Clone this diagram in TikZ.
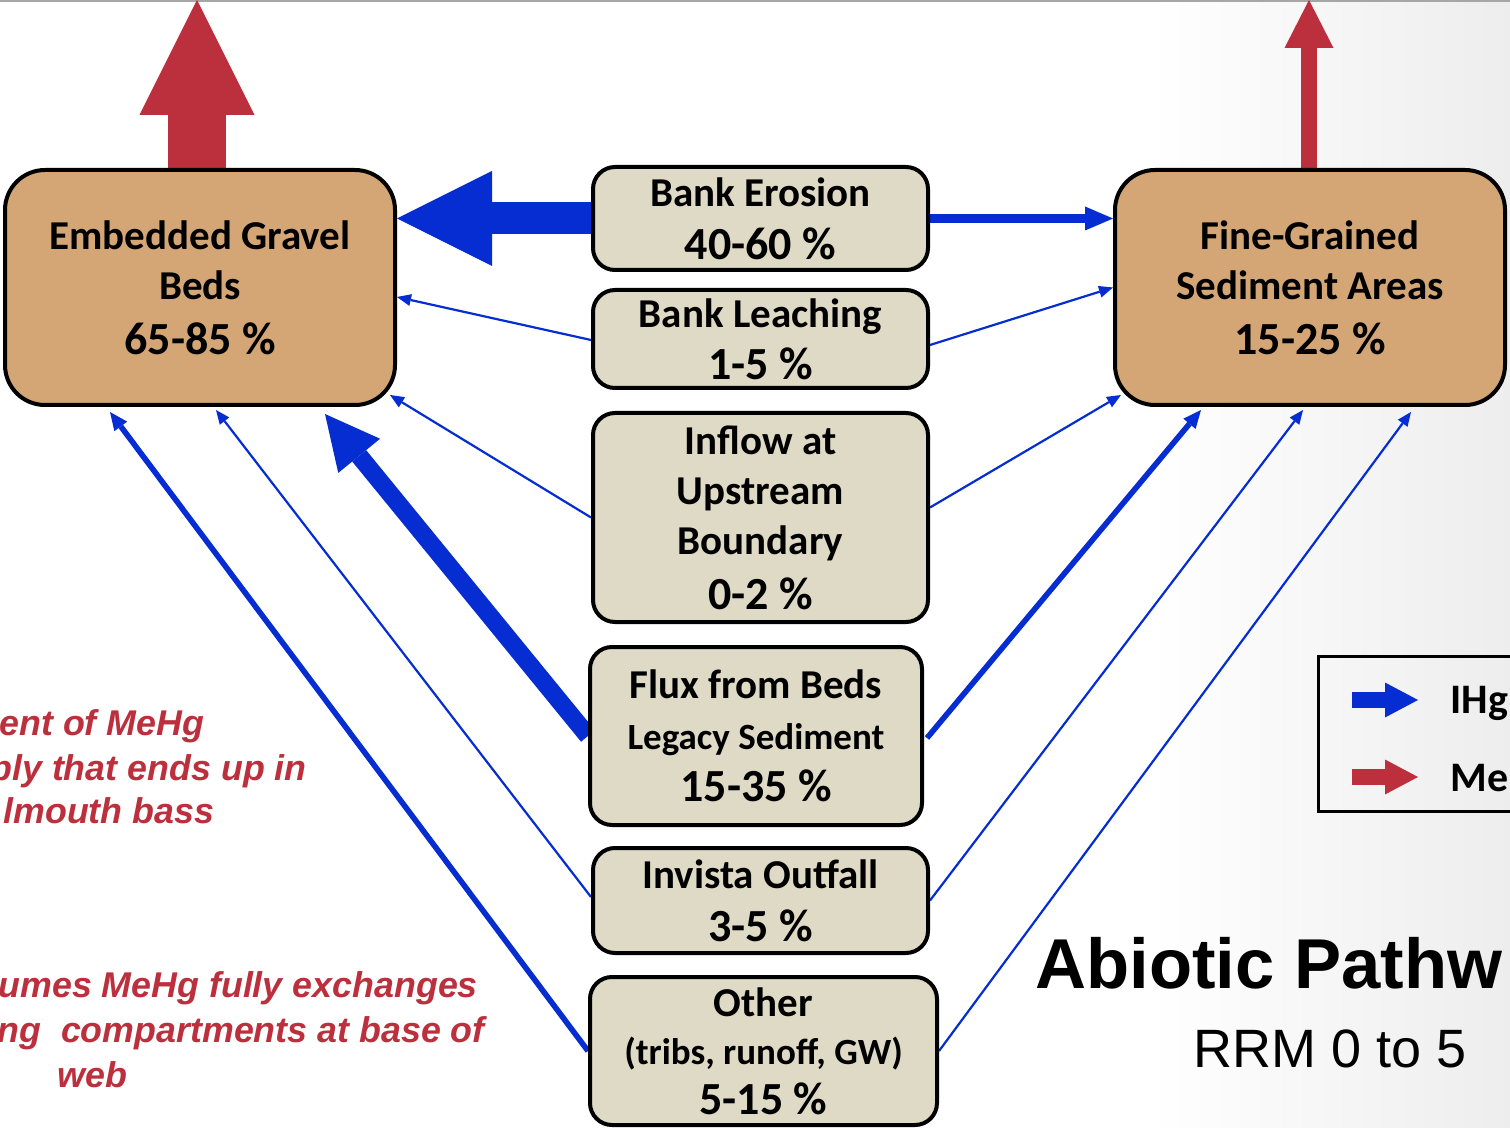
\documentclass[tikz,border=0pt]{standalone}
\usepackage{fontspec}
\setmainfont{Carlito}
\newfontfamily\arialf{Liberation Sans}
\usetikzlibrary{arrows.meta,calc}
\definecolor{tanbox}{RGB}{212,166,118}
\definecolor{beige}{RGB}{222,218,197}
\definecolor{flowblue}{RGB}{5,45,210}
\definecolor{mered}{RGB}{188,48,62}
\newcommand\nmsz{\fontsize{20.5}{25}\selectfont}
\newcommand\pcsz{\fontsize{23}{25}\selectfont}
\newcommand\smsz{\fontsize{18.5}{25}\selectfont}
\pgfdeclarelayer{bg}
\pgfdeclarelayer{paper}
\pgfsetlayers{paper,bg,main}
\begin{document}
\begin{tikzpicture}[x=0.5pt,y=-0.5pt,
  big/.style={draw=black,line width=2pt,fill=tanbox,rounded corners=20pt,minimum width=195pt,minimum height=117.5pt,align=center,font=\bfseries\fontsize{20.5}{25}\selectfont,inner sep=0pt},
  src/.style={draw=black,line width=2pt,fill=beige,rounded corners=11pt,align=center,font=\bfseries\fontsize{20.5}{25}\selectfont,inner sep=0pt},
  thinflow/.style={flowblue,line width=1.1pt,-{Triangle[length=7pt,width=6pt,line width=0pt]}},
  midflow/.style={flowblue,line width=2.8pt,-{Triangle[length=9pt,width=8pt,line width=0pt]}},
  redtxt/.style={text=mered,font=\arialf\bfseries\itshape\fontsize{17.9}{22}\selectfont,anchor=base west,inner sep=0pt},
]
\path[use as bounding box] (0,0) rectangle (1510,1128);
\clip (0,0) rectangle (1510,1128);
\begin{pgfonlayer}{paper}
\fill[white] (0,0) rectangle (1510,1128);
\shade[left color=white,right color=black!7] (1150,0) rectangle (1510,1128);
\draw[black!35,line width=1pt] (0,1) -- (1510,1);
\end{pgfonlayer}

% boxes
\node[big] (emb) at (200,287.5) {\nmsz Embedded Gravel\\\nmsz Beds\\[2.5pt]\pcsz 65-85 \%};
\node[big] (fine) at (1310,287.5) {\nmsz Fine-Grained\\\nmsz Sediment Areas\\[2.5pt]\pcsz 15-25 \%};
\node[src,minimum width=167.5pt,minimum height=51.5pt] (ero) at (760.5,218.5) {\nmsz Bank Erosion\\[1.5pt]\pcsz 40-60 \%};
\node[src,minimum width=167.5pt,minimum height=49pt] (lea) at (760.5,339) {\nmsz Bank Leaching\\[1pt]\pcsz 1-5 \%};
\node[src,minimum width=167.5pt,minimum height=104.5pt] (inf) at (760.5,517.5) {\nmsz Inflow at\\\nmsz Upstream\\\nmsz Boundary\\[2.5pt]\pcsz 0-2 \%};
\node[src,minimum width=166pt,minimum height=89pt] (flux) at (756,736) {\nmsz Flux from Beds\\[0.5pt]\smsz Legacy Sediment\\[1pt]\pcsz 15-35 \%};
\node[src,minimum width=167.5pt,minimum height=52.5pt] (inv) at (760.5,900.5) {\nmsz Invista Outfall\\[1.5pt]\pcsz 3-5 \%};
\node[src,minimum width=173.5pt,minimum height=74pt] (oth) at (763.5,1051) {\nmsz Other\\[-1pt]\smsz (tribs, runoff, GW)\\\pcsz 5-15 \%};

\coordinate (topL) at (197,0);
\coordinate (topR) at (1309,0);

\begin{pgfonlayer}{bg}
\draw[mered,line width=29pt,-{Triangle[length=57.5pt,width=57.5pt,line width=0pt]}] ($(emb.north)+(-3,0)$) -- (topL);
\draw[mered,line width=8pt,-{Triangle[length=24pt,width=24.5pt,line width=0pt]}] ($(fine.north)+(-1,0)$) -- (topR);

\draw[flowblue,line width=16pt,-{Triangle[length=47.5pt,width=47.5pt,line width=0pt]}] (ero.west) -- (emb.east |- ero.west);
\draw[flowblue,line width=4.5pt,-{Triangle[length=14pt,width=12pt,line width=0pt]}] (ero.east) -- (fine.west |- ero.east);
\draw[thinflow] ($(lea.west)+(0,1)$) -- ($(emb.east)+(0,9.5)$);
\draw[thinflow] ($(lea.east)+(0,6)$) -- (fine.west);
\draw[thinflow] (inf.west) -- ($(emb.south east)+(-7,-12)$);
\draw[thinflow] ($(inf.east)+(0,-10)$) -- ($(fine.south west)+(8,-12)$);
\draw[flowblue,line width=9pt,-{Triangle[length=27pt,width=27pt,line width=0pt]}] (flux.west) -- ($(emb.south east)+(-72,7)$);
\draw[midflow] ($(flux.east)+(3,2)$) -- ($(fine.south west)+(88,3)$);
\draw[thinflow] ($(inv.west)+(0,-3.5)$) -- ($(emb.south west)+(213,3)$);
\draw[thinflow] (inv.east) -- ($(fine.south west)+(190,3)$);
\draw[midflow] (oth.west) -- ($(emb.south west)+(107,5)$);
\draw[thinflow] (oth.east) -- ($(fine.south west)+(298,5)$);
\end{pgfonlayer}

% legend
\node[draw=black,line width=1.5pt,minimum width=111.5pt,minimum height=77.5pt,anchor=north west,inner sep=0pt] (leg) at (1317,655) {};
\coordinate (lb1) at (1352,700);
\coordinate (lb2) at (1418,700);
\coordinate (lr1) at (1352,777);
\coordinate (lr2) at (1418,777);
\draw[flowblue,line width=8pt,-{Triangle[length=16.5pt,width=17.5pt,line width=0pt]}] (lb1) -- (lb2);
\draw[mered,line width=8pt,-{Triangle[length=16.5pt,width=17.5pt,line width=0pt]}] (lr1) -- (lr2);
\node[anchor=west,font=\bfseries\fontsize{21}{25}\selectfont,inner sep=0pt] (ihg) at (1450,703) {IHg};
\node[anchor=west,font=\bfseries\fontsize{21}{25}\selectfont,inner sep=0pt] (me) at (1450,778) {Me};

% title
\node[anchor=base west,font=\arialf\bfseries\fontsize{35.3}{40}\selectfont,inner sep=0pt] (title) at (1035,988) {Abiotic Pathw};
\node[anchor=base west,font=\arialf\fontsize{27}{32}\selectfont,inner sep=0pt] (sub) at (1193,1067) {RRM 0 to 5};

% red notes
\node[redtxt] (r1) at (-1,735) {ent of MeHg};
\node[redtxt] (r2) at (-10,780) {ply that ends up in};
\node[redtxt] (r3) at (3,823) {lmouth bass};
\node[redtxt] (r4) at (-2,997) {umes MeHg fully exchanges};
\node[redtxt] (r5) at (-3,1042) {ng\ \ compartments at base of};
\node[redtxt] (r6) at (57,1087) {web};
\end{tikzpicture}
\end{document}
